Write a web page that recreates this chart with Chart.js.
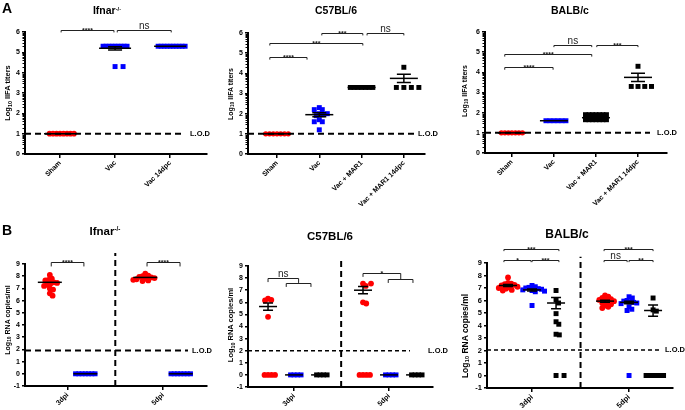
<!DOCTYPE html>
<html>
<head>
<meta charset="utf-8">
<script src="https://cdn.jsdelivr.net/npm/chart.js@4.4.1/dist/chart.umd.min.js"></script>
<style>
  body { margin: 0; background: #fff; }
  #wrap { position: relative; width: 685px; height: 410px; overflow: hidden; font-family: "Liberation Sans", Arial, sans-serif; color: #000; }
  #wrap canvas { position: absolute; }
  .letter { position: absolute; font-weight: bold; font-size: 14px; }
  .ttl { position: absolute; font-weight: bold; white-space: nowrap; transform: translate(-50%, -50%); }
  .ttl sup { font-size: 0.55em; vertical-align: 0.6em; }
  .ytl { position: absolute; font-weight: bold; white-space: nowrap; transform: translate(-50%, -50%) rotate(-90deg); }
  .ytl sub { font-size: 0.7em; vertical-align: -0.3em; }
</style>
</head>
<body>
<div id="wrap">
  <div class="letter" style="left:2px;top:0px">A</div>
  <div class="letter" style="left:2px;top:222px">B</div>
  <div class="ttl" style="left:107px;top:10px;font-size:10.5px">Ifnar<sup>-/-</sup></div>
  <div class="ttl" style="left:336px;top:10px;font-size:10.5px">C57BL/6</div>
  <div class="ttl" style="left:570px;top:10px;font-size:10.5px">BALB/c</div>
  <div class="ttl" style="left:105px;top:231px;font-size:11.5px">Ifnar<sup>-/-</sup></div>
  <div class="ttl" style="left:330px;top:236px;font-size:11.5px">C57BL/6</div>
  <div class="ttl" style="left:567px;top:234px;font-size:12px">BALB/c</div>
  <div class="ytl" style="left:8px;top:93px;font-size:7.5px">Log<sub>10</sub> IIFA titers</div>
  <div class="ytl" style="left:231px;top:94px;font-size:7px">Log<sub>10</sub> IIFA titers</div>
  <div class="ytl" style="left:465px;top:91px;font-size:7px">Log<sub>10</sub> IIFA titers</div>
  <div class="ytl" style="left:8px;top:320px;font-size:7px">Log<sub>10</sub> RNA copies/ml</div>
  <div class="ytl" style="left:231px;top:325px;font-size:7.5px">Log<sub>10</sub> RNA copies/ml</div>
  <div class="ytl" style="left:465px;top:336px;font-size:8.5px">Log<sub>10</sub> RNA copies/ml</div>
</div>
<script>
// ---- Panel A: IIFA titers ----
const titerLabelsIfnar = ['Sham', 'Vac', 'Vac 14dpc'];
const titerLabelsMar = ['Sham', 'Vac', 'Vac + MAR1', 'Vac + MAR1 14dpc'];

const ifnarSham = [1, 1, 1, 1, 1, 1, 1, 1];
const ifnarVac = [5.3, 5.3, 5.3, 5.3, 5.3, 5.3, 5.3, 5.3, 5.3, 4.3, 4.3];
const ifnarVac14 = [5.3, 5.3, 5.3, 5.3, 5.3, 5.3, 5.3, 5.3, 5.3, 5.3];
const ifnarTiterMean = [1, 5.2, 5.3];
const ifnarTiterSem = [0, 0.08, 0];

const c57Sham = [1, 1, 1, 1, 1, 1, 1];
const c57Vac = [2.3, 2.2, 2.2, 2.0, 2.0, 1.95, 1.9, 1.7, 1.6, 1.6, 1.2];
const c57Mar = [3.3, 3.3, 3.3, 3.3, 3.3, 3.3, 3.3];
const c57Mar14 = [4.3, 3.3, 3.3, 3.3, 3.3];
const c57TiterMean = [1, 1.95, 3.3, 3.75];
const c57TiterSem = [0, 0.1, 0, 0.2];

const balbSham = [1, 1, 1, 1, 1, 1, 1];
const balbVac = [1.6, 1.6, 1.6, 1.6, 1.6, 1.6];
const balbMar = [1.9, 1.9, 1.9, 1.9, 1.9, 1.9, 1.9, 1.65, 1.65, 1.65, 1.65, 1.65, 1.65, 1.65];
const balbMar14 = [4.3, 3.3, 3.3, 3.3, 3.3];
const balbTiterMean = [1, 1.6, 1.75, 3.75];
const balbTiterSem = [0, 0, 0.05, 0.2];

// significance brackets: [x1, x2, yTop, yEndLeft, yEndRight, label]
const ifnarTiterSig = [[0.02, 0.98, 6.1, 5.98, 5.98, '****'], [1.04, 2.02, 6.1, 5.98, 5.98, 'ns']];
const c57TiterSig = [
  [-0.17, 0.71, 4.8, 4.68, 4.68, '****'], [-0.17, 2.03, 5.5, 5.38, 5.38, '***'],
  [1.06, 2.03, 6.0, 5.88, 5.88, '***'], [2.13, 3.0, 6.0, 5.88, 5.88, 'ns']];
const balbTiterSig = [
  [-0.17, 0.98, 4.25, 4.13, 4.13, '****'], [-0.17, 1.9, 4.9, 4.78, 4.78, '****'],
  [1.0, 1.9, 5.37, 5.25, 5.25, 'ns'], [2.02, 3.0, 5.37, 5.25, 5.25, '***']];

// ---- Panel B: RNA copies ----
const rnaDays = ['3dpi', '5dpi'];

const ifnarRna3Red = [8.1, 7.8, 7.7, 7.65, 7.5, 7.45, 7.4, 7.3, 7.2, 7.0, 6.9, 6.6, 6.4];
const ifnarRna3Blue = [0, 0, 0, 0, 0, 0, 0];
const ifnarRna5Red = [8.2, 8.05, 8.0, 7.95, 7.9, 7.85, 7.8, 7.75, 7.7, 7.65, 7.6];
const ifnarRna5Blue = [0, 0, 0, 0, 0, 0, 0];
const ifnarRnaMean = [7.5, 0, 7.9, 0];
const ifnarRnaSem = [0, 0, 0, 0];

const c57Rna3Red = [6.3, 6.2, 6.15, 4.8, 0, 0, 0, 0];
const c57Rna3Blue = [0, 0, 0, 0];
const c57Rna3Black = [0, 0, 0, 0];
const c57Rna5Red = [7.55, 7.55, 7.35, 6.0, 5.9, 0, 0, 0, 0];
const c57Rna5Blue = [0, 0, 0, 0];
const c57Rna5Black = [0, 0, 0, 0];
const c57RnaMean = [5.65, 0, 0, 7.0, 0, 0];
const c57RnaSem = [0.3, 0, 0, 0.3, 0, 0];

const balbRna3Red = [7.85, 7.4, 7.35, 7.3, 7.25, 7.2, 7.1, 7.05, 7.0, 6.95, 6.85, 6.8];
const balbRna3Blue = [7.2, 7.1, 7.05, 7.0, 6.95, 6.9, 6.85, 6.8, 6.75, 6.7, 5.6];
const balbRna3Black = [6.8, 6.05, 5.8, 4.95, 4.3, 4.1, 3.3, 3.25, 0, 0];
const balbRna5Red = [6.4, 6.3, 6.2, 6.1, 6.05, 6.0, 5.95, 5.9, 5.8, 5.7, 5.6, 5.5, 5.4];
const balbRna5Blue = [6.3, 6.2, 6.0, 5.95, 5.9, 5.85, 5.8, 5.75, 5.5, 5.3, 5.2, 0];
const balbRna5Black = [6.2, 5.25, 5.15, 0, 0, 0, 0, 0, 0];
const balbRnaMean = [7.2, 6.85, 5.8, 5.95, 5.85, 5.2];
const balbRnaSem = [0.08, 0.08, 0.45, 0.08, 0.1, 0.45];

const ifnarRnaSig = [[-0.46, 0.46, 9.15, 8.8, 8.8, '****'], [2.24, 3.17, 9.15, 8.8, 8.8, '****']];
const c57RnaSig = [
  [-1.0, 0.175, 8.0, 7.67, 7.6, 'ns'], [-0.3, 0.65, 7.6, 7.27, 7.27, ''],
  [2.65, 4.1, 8.4, 8.1, 7.9, '*'], [3.62, 4.57, 7.9, 7.6, 7.6, '']];
const balbRnaSig = [
  [-1.17, -0.04, 9.25, 9.07, 9.07, '*'], [0, 1.12, 9.25, 9.07, 9.07, '***'],
  [-1.17, 1.12, 10.12, 9.95, 9.95, '***'], [3.0, 3.96, 9.25, 9.07, 9.07, 'ns'],
  [4.04, 5.04, 9.25, 9.07, 9.07, '**'], [3.0, 5.04, 10.12, 9.95, 9.95, '***']];

const RED = '#ff0000', BLUE = '#0000ff', BLACK = '#000000';
const FONT = '"Liberation Sans", Arial, sans-serif';

// beeswarm like GraphPad: equal values spread over a fixed row width (capped gap),
// scattered values pushed aside with an elliptic clearance
function swarm(values, center, pxX, pxY, span) {
  const placed = [];
  const out = [];
  const count = {};
  values.forEach(v => { count[v] = (count[v] || 0) + 1; });
  const order = values.map((v, i) => i).sort((a, b) => values[b] - values[a]);
  order.forEach(i => {
    const v = values[i];
    const y = v * pxY;
    const rowGap = count[v] > 1 ? Math.min(8, Math.max(3, span / (count[v] - 1))) : 3.2;
    for (let k = 0; k < 400; k++) {
      const off = (k % 2 ? 1 : -1) * Math.ceil(k / 2) * 0.25;
      const hit = placed.some(p => p.v === v
        ? Math.abs(p.x - off) < rowGap - 0.01
        : ((p.x - off) / 3.2) ** 2 + ((p.y - y) / 4.6) ** 2 < 0.98);
      if (!hit) {
        placed.push({ x: off, y, v });
        out[i] = { x: center + off / pxX, y: v };
        break;
      }
    }
  });
  return out;
}

// draws L.O.D, divider, mean/SEM lines, significance brackets, minor ticks
const extrasPlugin = {
  id: 'extras',
  afterDatasetsDraw(chart, args, o) {
    const { ctx, chartArea: ca, scales: { x, y } } = chart;
    ctx.save();
    if (o.minor) {
      ctx.strokeStyle = '#000'; ctx.lineWidth = 1;
      for (let n = y.min; n < y.max; n++) {
        for (let k = 2; k < 10; k++) {
          const py = Math.round(y.getPixelForValue(n + Math.log10(k))) + 0.5;
          ctx.beginPath(); ctx.moveTo(ca.left - 2.5, py); ctx.lineTo(ca.left, py); ctx.stroke();
        }
      }
    }
    if (o.divider != null) {
      const px = x.getPixelForValue(o.divider);
      ctx.setLineDash([6, 4]); ctx.lineWidth = 2; ctx.strokeStyle = '#000';
      ctx.beginPath(); ctx.moveTo(px, ca.bottom); ctx.lineTo(px, y.getPixelForValue(o.dividerTop)); ctx.stroke();
    }
    const ly = y.getPixelForValue(o.lod.value);
    ctx.setLineDash(o.lod.dash); ctx.lineWidth = o.lod.width; ctx.strokeStyle = '#000';
    ctx.beginPath(); ctx.moveTo(ca.left, ly); ctx.lineTo(ca.right + o.lod.end, ly); ctx.stroke();
    ctx.setLineDash([]);
    ctx.fillStyle = '#000'; ctx.font = 'bold ' + o.lod.font + 'px ' + FONT;
    ctx.textBaseline = 'middle'; ctx.textAlign = 'left';
    ctx.fillText('L.O.D', ca.right + o.lod.text, ly);

    ctx.strokeStyle = '#000'; ctx.lineWidth = 1.5;
    o.centers.forEach((cx, i) => {
      const px = x.getPixelForValue(cx);
      const m = y.getPixelForValue(o.means[i]);
      ctx.beginPath(); ctx.moveTo(px - o.meanHW, m); ctx.lineTo(px + o.meanHW, m); ctx.stroke();
      if (o.sems[i] > 0) {
        const hi = y.getPixelForValue(o.means[i] + o.sems[i]);
        const lo = y.getPixelForValue(o.means[i] - o.sems[i]);
        ctx.beginPath();
        ctx.moveTo(px, hi); ctx.lineTo(px, lo);
        ctx.moveTo(px - o.capHW, hi); ctx.lineTo(px + o.capHW, hi);
        ctx.moveTo(px - o.capHW, lo); ctx.lineTo(px + o.capHW, lo);
        ctx.stroke();
      }
    });

    ctx.lineWidth = 1; ctx.strokeStyle = '#222';
    o.brackets.forEach(([x1, x2, yt, y1, y2, label]) => {
      const p1 = x.getPixelForValue(x1), p2 = x.getPixelForValue(x2);
      const pt = Math.round(y.getPixelForValue(yt)) + 0.5;
      ctx.beginPath();
      ctx.moveTo(p1, y.getPixelForValue(y1)); ctx.lineTo(p1, pt);
      ctx.lineTo(p2, pt); ctx.lineTo(p2, y.getPixelForValue(y2));
      ctx.stroke();
      if (label) {
        ctx.textAlign = 'center'; ctx.textBaseline = 'alphabetic'; ctx.fillStyle = '#222';
        if (label === 'ns') {
          ctx.font = o.nsFont + 'px ' + FONT;
          ctx.fillText(label, (p1 + p2) / 2, pt - 1.5);
        } else {
          ctx.font = 'bold ' + o.starFont + 'px ' + FONT;
          ctx.fillText(label, (p1 + p2) / 2, pt + 2.5);
        }
      }
    });
    ctx.restore();
  }
};

function makePanel(p) {
  const canvas = document.createElement('canvas');
  canvas.width = p.w; canvas.height = p.h;
  canvas.style.left = p.left + 'px'; canvas.style.top = p.top + 'px';
  canvas.style.width = p.w + 'px'; canvas.style.height = p.h + 'px';
  document.getElementById('wrap').prepend(canvas);

  const pxX = p.plotW / (p.xMax - p.xMin);
  const pxY = p.plotH / (p.yMax - p.yMin);
  const datasets = p.groups.map(g => ({
    data: swarm(g.values, g.x, pxX, pxY, p.rowSpan),
    pointStyle: g.color === RED ? 'circle' : 'rect',
    pointRadius: g.color === RED ? p.circleR : p.rectR,
    backgroundColor: g.color,
    borderWidth: 0,
    clip: false
  }));

  new Chart(canvas, {
    type: 'scatter',
    data: { datasets },
    plugins: [extrasPlugin],
    options: {
      responsive: false,
      animation: false,
      events: [],
      layout: { padding: { left: 0, right: p.padR, top: p.padT, bottom: 0 } },
      plugins: {
        legend: { display: false },
        tooltip: { enabled: false },
        extras: {
          minor: p.minor, divider: p.divider, dividerTop: p.dividerTop, lod: p.lod,
          centers: p.groups.map(g => g.x), means: p.means, sems: p.sems,
          meanHW: p.meanHW, capHW: p.capHW, brackets: p.brackets,
          nsFont: p.nsFont, starFont: p.starFont
        }
      },
      scales: {
        x: {
          type: 'linear', min: p.xMin, max: p.xMax,
          afterBuildTicks: s => { s.ticks = p.tickPos.map(v => ({ value: v })); },
          afterFit: s => { s.height = p.xH; },
          ticks: {
            autoSkip: false, minRotation: 45, maxRotation: 45, padding: 1, color: '#000',
            font: { family: FONT, size: p.xFont, weight: 'bold' },
            callback: v => p.tickLabels[p.tickPos.indexOf(v)]
          },
          grid: { drawOnChartArea: false, drawTicks: true, tickLength: 4, color: '#000', lineWidth: 1.5 },
          border: { color: '#000', width: 2 }
        },
        y: {
          min: p.yMin, max: p.yMax,
          afterFit: s => { s.width = p.yW; },
          ticks: { stepSize: 1, padding: 2, color: '#000', font: { family: FONT, size: p.yFont, weight: 'bold' } },
          grid: { drawOnChartArea: false, drawTicks: true, tickLength: 3, color: '#000', lineWidth: 1.5 },
          border: { color: '#000', width: 2 }
        }
      }
    }
  });
}

function rnaX(day, sub, n, D) { return day * D + sub - (n - 1) / 2; }

const panels = [
  {
    left: 0, top: 0, w: 225, h: 215, yW: 25, padR: 18, padT: 32, xH: 61, plotW: 182, plotH: 122,
    xMin: -0.636, xMax: 2.67, yMin: 0, yMax: 6, tickPos: [0, 1, 2], tickLabels: titerLabelsIfnar,
    groups: [{ values: ifnarSham, x: 0, color: RED }, { values: ifnarVac, x: 1, color: BLUE }, { values: ifnarVac14, x: 2, color: BLUE }],
    means: ifnarTiterMean, sems: ifnarTiterSem, brackets: ifnarTiterSig, minor: true,
    lod: { value: 1, end: -22, text: -17, dash: [6, 4], width: 2, font: 7.5 },
    meanHW: 16, capHW: 7, rowSpan: 23, circleR: 2.8, rectR: 3.5, xFont: 7, yFont: 7, nsFont: 10, starFont: 7
  },
  {
    left: 225, top: 0, w: 230, h: 215, yW: 23, padR: 30, padT: 33, xH: 61, plotW: 177, plotH: 121,
    xMin: -0.686, xMax: 3.5, yMin: 0, yMax: 6, tickPos: [0, 1, 2, 3], tickLabels: titerLabelsMar,
    groups: [{ values: c57Sham, x: 0, color: RED }, { values: c57Vac, x: 1, color: BLUE }, { values: c57Mar, x: 2, color: BLACK }, { values: c57Mar14, x: 3, color: BLACK }],
    means: c57TiterMean, sems: c57TiterSem, brackets: c57TiterSig, minor: true,
    lod: { value: 1, end: -10, text: -7, dash: [6, 4], width: 2, font: 7.5 },
    meanHW: 14, capHW: 7, rowSpan: 22, circleR: 2.7, rectR: 3.5, xFont: 7, yFont: 7, nsFont: 10, starFont: 7
  },
  {
    left: 455, top: 0, w: 230, h: 215, yW: 30, padR: 18, padT: 32, xH: 62, plotW: 182, plotH: 121,
    xMin: -0.64, xMax: 3.69, yMin: 0, yMax: 6, tickPos: [0, 1, 2, 3], tickLabels: titerLabelsMar,
    groups: [{ values: balbSham, x: 0, color: RED }, { values: balbVac, x: 1, color: BLUE }, { values: balbMar, x: 2, color: BLACK }, { values: balbMar14, x: 3, color: BLACK }],
    means: balbTiterMean, sems: balbTiterSem, brackets: balbTiterSig, minor: true,
    lod: { value: 1, end: -17, text: -10, dash: [6, 4], width: 2, font: 7.5 },
    meanHW: 14, capHW: 7, rowSpan: 20, circleR: 2.7, rectR: 3.5, xFont: 7, yFont: 7, nsFont: 10, starFont: 7
  },
  {
    left: 0, top: 200, w: 225, h: 210, yW: 25, padR: 18, padT: 64, xH: 24, plotW: 182, plotH: 122,
    xMin: -1.2, xMax: 3.93, yMin: -1, yMax: 9, tickPos: [0, 2.69], tickLabels: rnaDays,
    groups: [
      { values: ifnarRna3Red, x: rnaX(0, 0, 2, 2.69), color: RED }, { values: ifnarRna3Blue, x: rnaX(0, 1, 2, 2.69), color: BLUE },
      { values: ifnarRna5Red, x: rnaX(1, 0, 2, 2.69), color: RED }, { values: ifnarRna5Blue, x: rnaX(1, 1, 2, 2.69), color: BLUE }],
    means: ifnarRnaMean, sems: ifnarRnaSem, brackets: ifnarRnaSig, minor: false,
    divider: 1.345, dividerTop: 9.9,
    lod: { value: 1.9, end: -19, text: -15, dash: [6, 4], width: 2, font: 7.5 },
    meanHW: 12, capHW: 6, rowSpan: 19, circleR: 2.9, rectR: 3.5, xFont: 7, yFont: 7, nsFont: 10, starFont: 7
  },
  {
    left: 225, top: 200, w: 230, h: 210, yW: 23, padR: 22, padT: 66, xH: 23, plotW: 185, plotH: 121,
    xMin: -1.77, xMax: 5.34, yMin: -1, yMax: 9, tickPos: [0, 3.65], tickLabels: rnaDays,
    groups: [
      { values: c57Rna3Red, x: rnaX(0, 0, 3, 3.65), color: RED }, { values: c57Rna3Blue, x: rnaX(0, 1, 3, 3.65), color: BLUE },
      { values: c57Rna3Black, x: rnaX(0, 2, 3, 3.65), color: BLACK },
      { values: c57Rna5Red, x: rnaX(1, 0, 3, 3.65), color: RED }, { values: c57Rna5Blue, x: rnaX(1, 1, 3, 3.65), color: BLUE },
      { values: c57Rna5Black, x: rnaX(1, 2, 3, 3.65), color: BLACK }],
    means: c57RnaMean, sems: c57RnaSem, brackets: c57RnaSig, minor: false,
    divider: 1.81, dividerTop: 9.7,
    lod: { value: 2, end: -23, text: -5, dash: [4, 3], width: 1.5, font: 7.5 },
    meanHW: 9, capHW: 5, rowSpan: 10, circleR: 2.9, rectR: 3.5, xFont: 7, yFont: 7, nsFont: 10, starFont: 7
  },
  {
    left: 455, top: 200, w: 230, h: 210, yW: 32, padR: 12, padT: 63, xH: 22, plotW: 186, plotH: 125,
    xMin: -1.875, xMax: 5.87, yMin: -1, yMax: 9, tickPos: [0, 4.04], tickLabels: rnaDays,
    groups: [
      { values: balbRna3Red, x: rnaX(0, 0, 3, 4.04), color: RED }, { values: balbRna3Blue, x: rnaX(0, 1, 3, 4.04), color: BLUE },
      { values: balbRna3Black, x: rnaX(0, 2, 3, 4.04), color: BLACK },
      { values: balbRna5Red, x: rnaX(1, 0, 3, 4.04), color: RED }, { values: balbRna5Blue, x: rnaX(1, 1, 3, 4.04), color: BLUE },
      { values: balbRna5Black, x: rnaX(1, 2, 3, 4.04), color: BLACK }],
    means: balbRnaMean, sems: balbRnaSem, brackets: balbRnaSig, minor: false,
    divider: 2.02, dividerTop: 9.5,
    lod: { value: 2.05, end: -14, text: -8, dash: [4, 3], width: 1.5, font: 7.5 },
    meanHW: 9, capHW: 5, rowSpan: 17, circleR: 2.9, rectR: 3.5, xFont: 7.5, yFont: 7.5, nsFont: 10, starFont: 7
  }
];

panels.forEach(makePanel);
</script>
</body>
</html>
